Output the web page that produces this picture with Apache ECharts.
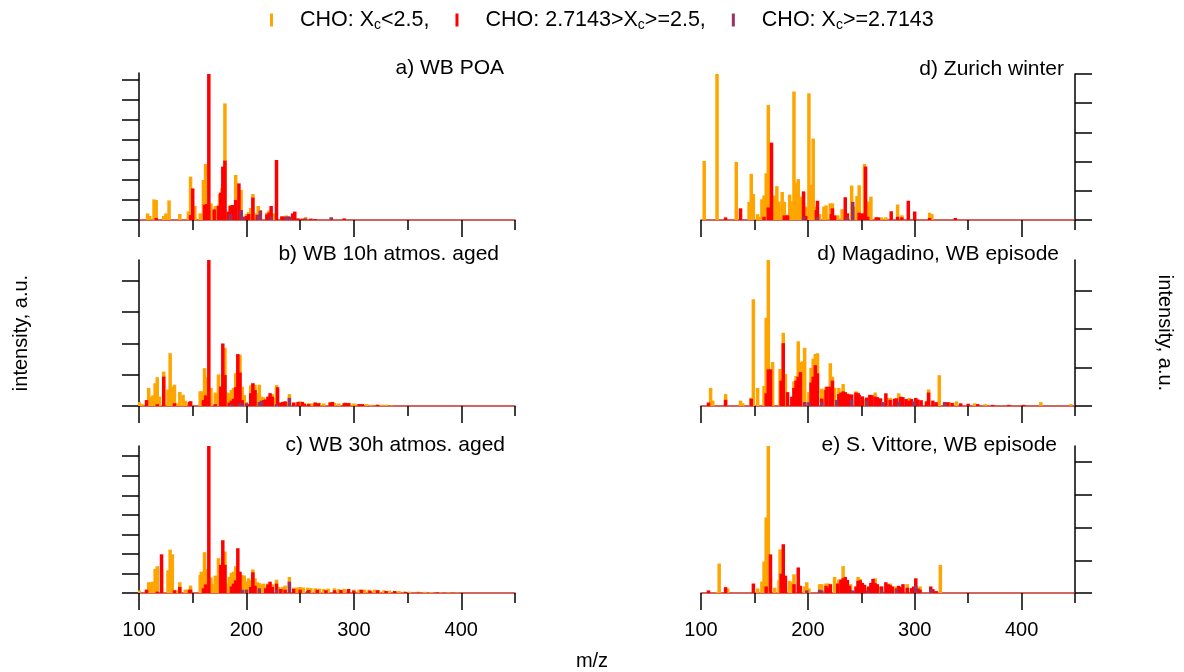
<!DOCTYPE html>
<html><head><meta charset="utf-8">
<script src="https://cdn.jsdelivr.net/npm/echarts@6/dist/echarts.min.js"></script>
<style>html,body{margin:0;padding:0;background:#fff}#c{width:1184px;height:672px}</style>
</head><body><div id="c"></div>
<script>
// ---------- DATA (m/z, intensity in a.u.) ----------
const aOrange = [[108,0.33],[110,0.2],[114,1.03],[116,1.0],[123,0.2],[125,0.33],[128,0.98],[138,0.3],[146,0.43],[148,2.17],[152,0.7],[157,0.33],[160,2.0],[162,2.8],[167,0.83],[171,0.7],[175,1.3],[177,1.58],[180,5.83],[185,0.75],[187,0.75],[190,2.25],[195,1.5],[200,0.3],[202,0.4],[204,0.6],[206,1.3],[209,0.33],[211,0.7],[213,0.5],[219,0.37],[221,0.47],[225,0.33],[233,0.17],[237,0.23],[238,0.2],[255,0.15],[279,0.13]];
const aRed = [[116,0.1],[148,0.25],[150,1.58],[161,0.77],[163,0.8],[165,7.3],[170,0.53],[174,0.72],[176,1.37],[178,2.67],[180,2.97],[183,0.42],[185,0.7],[187,0.75],[188,0.63],[190,1.0],[193,1.83],[195,0.5],[200,0.2],[202,0.3],[206,1.12],[210,0.25],[212,0.23],[219,0.28],[221,0.37],[223,0.7],[228,3.0],[233,0.18],[235,0.17],[239,0.17],[243,0.33],[245,0.42],[248,0.08],[252,0.07],[260,0.07],[264,0.05],[291,0.08]];
const aPurple = [[185,0.3],[195,0.5],[197,0.17],[211,0.27],[213,0.47],[223,0.17],[237,0.17],[241,0.17],[255,0.08],[279,0.13]];

const bOrange = [[100,0.13],[103,0.06],[109,0.58],[111,0.3],[113,0.34],[115,0.73],[117,0.92],[119,0.3],[123,1.1],[127,0.53],[129,1.69],[131,0.62],[133,0.68],[135,0.09],[138,0.45],[141,0.36],[143,0.17],[147,0.13],[148,0.15],[157,0.47],[158,0.47],[161,1.21],[163,0.92],[167,0.58],[171,0.43],[174,1.01],[176,0.62],[180,1.86],[182,0.43],[184,0.41],[186,0.51],[188,0.58],[190,1.05],[192,1.64],[194,1.64],[196,0.62],[198,0.35],[200,0.13],[204,0.66],[206,0.7],[208,0.68],[210,0.41],[212,0.68],[214,0.3],[216,0.28],[218,0.19],[220,0.26],[224,0.38],[226,0.26],[228,0.67],[234,0.13],[238,0.13],[240,0.38],[244,0.11],[250,0.15],[254,0.1],[258,0.09],[261,0.08],[264,0.11],[268,0.1],[272,0.08],[278,0.13],[282,0.1],[286,0.08],[292,0.11],[296,0.1],[300,0.08],[304,0.06],[307,0.06],[312,0.06],[316,0.04],[322,0.04],[326,0.04],[330,0.04],[335,0.02]];
const bRed = [[107,0.19],[117,0.06],[123,0.94],[133,0.09],[147,0.13],[148,0.15],[160,0.19],[162,0.34],[165,4.67],[171,0.06],[176,0.62],[178,2.0],[180,0.99],[184,0.11],[186,0.17],[188,0.23],[190,0.6],[192,1.66],[194,1.07],[196,0.19],[202,0.06],[204,0.41],[206,0.73],[208,0.51],[216,0.19],[218,0.21],[220,0.3],[222,0.41],[224,0.3],[229,0.6],[232,0.11],[234,0.13],[236,0.15],[244,0.11],[248,0.13],[252,0.13],[254,0.06],[258,0.06],[264,0.11],[267,0.09],[278,0.11],[280,0.13],[291,0.09],[293,0.09],[295,0.09],[305,0.06],[308,0.06],[322,0.04]];
const bPurple = [[186,0.06],[194,0.11],[196,0.06],[200,0.09],[212,0.13],[214,0.17],[228,0.06],[240,0.26]];

const cOrange = [[100,0.14],[107,0.17],[109,0.55],[111,0.55],[113,0.58],[115,1.23],[117,1.37],[121,1.2],[127,1.16],[129,2.22],[131,1.98],[133,0.14],[135,0.14],[138,0.55],[143,0.17],[144,0.17],[148,0.38],[157,0.92],[158,1.09],[161,2.09],[163,1.23],[167,0.79],[168,0.48],[171,0.89],[173,0.72],[174,1.78],[176,0.82],[180,2.12],[182,0.48],[184,0.82],[186,1.03],[188,1.09],[190,1.37],[196,0.92],[198,0.89],[200,0.58],[202,0.75],[204,0.65],[206,1.2],[208,0.75],[210,0.55],[212,0.51],[214,0.44],[216,0.48],[218,0.34],[220,0.48],[224,0.44],[228,0.68],[230,0.31],[234,0.31],[236,0.38],[240,0.82],[244,0.27],[247,0.28],[250,0.31],[253,0.28],[257,0.27],[260,0.25],[264,0.24],[268,0.22],[272,0.21],[276,0.22],[282,0.24],[286,0.2],[291,0.21],[295,0.2],[300,0.17],[305,0.17],[310,0.17],[314,0.17],[319,0.17],[323,0.15],[328,0.14],[333,0.12],[338,0.1],[342,0.1],[347,0.07],[352,0.07],[360,0.07],[366,0.06],[372,0.05],[380,0.04],[388,0.03],[396,0.03]];
const cRed = [[107,0.17],[117,0.07],[121,1.98],[133,0.14],[138,0.31],[147,0.17],[148,0.17],[160,0.24],[162,0.44],[165,7.52],[176,1.44],[178,2.7],[180,1.44],[186,0.34],[188,0.48],[190,0.65],[192,2.29],[194,1.09],[204,0.31],[206,1.06],[208,0.38],[218,0.24],[220,0.44],[222,0.58],[224,0.31],[228,0.48],[232,0.21],[236,0.17],[244,0.21],[250,0.17],[258,0.15],[266,0.17],[274,0.14],[282,0.14],[288,0.15],[295,0.21],[300,0.12],[307,0.17],[315,0.12],[322,0.14],[330,0.1],[338,0.1],[348,0.06],[360,0.03],[378,0.03]];
const cPurple = [[196,0.17],[200,0.17],[212,0.24],[228,0.17],[240,0.58],[257,0.1]];

const dOrange = [[103,2.02],[115,5.0],[133,1.99],[145,0.62],[147,1.58],[149,0.89],[153,0.2],[155,0.11],[157,0.71],[159,0.84],[161,1.6],[163,3.94],[169,0.84],[171,1.16],[173,0.63],[176,0.96],[178,0.62],[181,0.18],[183,0.87],[185,0.64],[187,4.4],[189,1.26],[191,1.4],[193,0.8],[198,0.46],[201,4.34],[203,1.21],[205,2.79],[208,0.46],[211,0.2],[215,0.46],[217,0.5],[221,0.57],[223,0.57],[228,0.16],[232,0.37],[236,0.11],[241,1.18],[243,0.46],[246,0.82],[248,1.19],[253,1.92],[257,0.63],[259,0.8],[264,0.09],[269,0.09],[273,0.09],[284,0.53],[288,0.16],[314,0.25],[316,0.2]];
const dRed = [[123,0.09],[137,0.4],[159,0.11],[163,0.43],[166,2.65],[178,0.16],[181,0.16],[196,0.98],[198,0.14],[208,0.34],[209,0.66],[222,0.2],[223,0.4],[225,0.16],[235,0.78],[237,0.23],[248,0.25],[249,0.16],[251,0.23],[254,1.83],[256,0.11],[264,0.09],[266,0.09],[278,0.3],[284,0.11],[288,0.09],[294,0.66],[300,0.29],[314,0.07],[338,0.07]];
const dPurple = [[196,0.11],[209,0.11],[237,0.11],[242,0.62]];

const mOrange = [[109,0.47],[111,0.14],[123,0.31],[137,0.14],[139,0.07],[147,0.21],[149,2.77],[153,0.47],[159,0.52],[161,2.29],[163,3.79],[165,0.95],[167,1.14],[174,0.96],[177,1.9],[179,0.83],[187,0.64],[189,0.78],[191,1.68],[193,1.14],[195,1.16],[197,1.51],[201,0.36],[203,0.99],[205,1.23],[207,1.35],[209,1.37],[213,0.45],[214,0.42],[217,0.5],[221,1.11],[223,0.76],[225,0.47],[229,0.47],[233,0.57],[237,0.33],[245,0.38],[247,0.35],[253,0.17],[263,0.35],[274,0.21],[277,0.21],[285,0.33],[295,0.21],[312,0.14],[313,0.43],[323,0.8],[332,0.1],[339,0.12],[356,0.07],[366,0.05],[418,0.1],[446,0.05]];
const mRed = [[107,0.09],[123,0.16],[147,0.19],[161,0.33],[163,0.95],[165,0.95],[175,0.66],[177,1.63],[181,0.36],[185,0.24],[187,0.47],[189,0.66],[191,0.76],[193,0.88],[197,0.1],[203,0.61],[205,0.76],[207,1.06],[209,0.85],[213,0.19],[217,0.42],[218,0.5],[221,0.5],[223,0.66],[229,0.31],[231,0.35],[233,0.38],[235,0.36],[237,0.31],[239,0.3],[241,0.3],[245,0.35],[247,0.33],[248,0.29],[251,0.25],[255,0.22],[258,0.29],[260,0.28],[263,0.24],[265,0.23],[268,0.2],[273,0.33],[277,0.16],[281,0.19],[283,0.2],[287,0.24],[289,0.23],[292,0.18],[295,0.14],[297,0.18],[301,0.21],[303,0.17],[306,0.15],[311,0.12],[313,0.35],[317,0.14],[320,0.1],[328,0.1],[331,0.1],[335,0.08],[343,0.07],[350,0.06],[359,0.05],[373,0.03],[388,0.03],[402,0.03]];
const mPurple = [[197,0.09],[201,0.1],[213,0.1],[227,0.16],[241,0.17],[255,0.14],[270,0.1],[285,0.12],[299,0.12],[328,0.09]];

const sOrange = [[115,0.03],[117,0.9],[125,0.14],[153,0.14],[157,0.35],[159,0.96],[161,2.31],[163,4.49],[165,0.49],[169,0.16],[173,0.39],[174,1.33],[179,0.2],[183,0.37],[185,0.33],[187,0.57],[193,0.2],[197,0.2],[199,0.33],[201,0.14],[211,0.27],[213,0.27],[217,0.29],[219,0.29],[225,0.49],[229,0.41],[233,0.82],[240,0.27],[247,0.49],[249,0.43],[255,0.16],[263,0.45],[268,0.2],[277,0.29],[282,0.2],[293,0.27],[305,0.2],[324,0.86]];
const sRed = [[107,0.08],[123,0.18],[149,0.29],[161,0.2],[165,1.18],[175,0.59],[177,1.49],[179,0.53],[187,0.27],[191,0.78],[193,0.22],[217,0.22],[219,0.16],[221,0.27],[228,0.29],[231,0.41],[233,0.45],[235,0.49],[237,0.4],[239,0.22],[245,0.2],[247,0.37],[249,0.39],[251,0.31],[253,0.25],[257,0.2],[259,0.31],[261,0.43],[263,0.3],[265,0.27],[269,0.2],[273,0.33],[275,0.27],[277,0.24],[279,0.2],[283,0.14],[285,0.22],[287,0.18],[289,0.27],[293,0.16],[297,0.15],[299,0.2],[301,0.45],[303,0.14],[305,0.1],[315,0.2],[317,0.12],[320,0.06]];
const sPurple = [[199,0.08],[211,0.1],[213,0.08],[242,0.08],[256,0.08],[269,0.08],[283,0.12],[301,0.22],[315,0.12]];

const seriesNames = ['CHO: Xc<2.5,', 'CHO: 2.7143>Xc>=2.5,', 'CHO: Xc>=2.7143'];
const legendLabels = ['{t|CHO: X}{s|c}{t|<2.5,}', '{t|CHO: 2.7143>X}{s|c}{t|>=2.5,}', '{t|CHO: X}{s|c}{t|>=2.7143}'];
const panelTitles = ['a) WB POA', 'b) WB 10h atmos. aged', 'c) WB 30h atmos. aged', 'd) Zurich winter', 'd) Magadino, WB episode', 'e) S. Vittore, WB episode'];
const panelData = [[aOrange,aRed,aPurple],[bOrange,bRed,bPurple],[cOrange,cRed,cPurple],[dOrange,dRed,dPurple],[mOrange,mRed,mPurple],[sOrange,sRed,sPurple]];
const yMax = [7.35, 4.67, 7.52, 5.0, 3.79, 4.49];
const yTicks = [[0,1,2,3,4,5,6,7],[0,1,2,3,4],[0,1,2,3,4,5,6,7],[0,1,2,3,4,5],[0,1,2,3],[0,1,2,3,4]];
const xMajorTicks = [100, 200, 300, 400];
const xName = 'm/z';
const yName = 'intensity, a.u.';

// ---------- LAYOUT / STYLE ----------
const FONT = 'Liberation Sans, Arial, Helvetica, sans-serif';
const colors = ['#FFA500', '#FF0000', '#993366'];
const grids = [
  {left:139, top:73, width:376, height:147},
  {left:139, top:260, width:376, height:146},
  {left:139, top:446, width:376, height:147},
  {left:701, top:74, width:374, height:146},
  {left:701, top:260, width:374, height:146},
  {left:701, top:446, width:374, height:147}
];
const titlePos = [
  {right:680, top:58},{right:685, top:244},{right:679, top:435},
  {right:120, top:59},{right:125, top:244},{right:127, top:435}
];

const xAxes = [], yAxes = [], series = [];
grids.forEach((g, i) => {
  const isRight = i >= 3;
  const isBottom = i === 2 || i === 5;
  xAxes.push({
    gridIndex:i, type:'value', min:100, max:450, interval:50, position:'bottom',
    axisLine:{show:true, onZero:false, lineStyle:{color:'#c0352c', width:1.5}},
    axisTick:{show:true, length:10, lineStyle:{color:'#000', width:1.5}},
    axisLabel:{show:isBottom, customValues:xMajorTicks, fontSize:20, color:'#000', fontFamily:FONT, margin:27},
    splitLine:{show:false}
  });
  xAxes.push({
    gridIndex:i, type:'value', min:100, max:450, position:'bottom',
    axisLine:{show:false},
    axisTick:{show:true, customValues:xMajorTicks, length:17, lineStyle:{color:'#000', width:1.5}},
    axisLabel:{show:false}, splitLine:{show:false}
  });
  const ya = {
    gridIndex:i, type:'value', min:0, max:yMax[i], position:isRight?'right':'left',
    axisLine:{show:true, onZero:false, lineStyle:{color:'#000', width:1.5}},
    axisTick:{show:true, customValues:yTicks[i], length:17, lineStyle:{color:'#000', width:1.5}},
    axisLabel:{show:false}, splitLine:{show:false}
  };
  if (i === 1 || i === 4) {
    ya.name = yName;
    ya.nameLocation = 'middle';
    ya.nameRotate = isRight ? -90 : 90;
    ya.nameGap = isRight ? 80 : 108;
    ya.nameTextStyle = {fontSize:20, color:'#000', fontFamily:FONT};
  }
  yAxes.push(ya);
  panelData[i].forEach((arr, k) => {
    series.push({
      type:'bar', name:seriesNames[k], xAxisIndex:2*i, yAxisIndex:i,
      data:arr, barWidth:3.5, barGap:'-100%', barCategoryGap:0,
      itemStyle:{color:colors[k]}, silent:true, animation:false
    });
  });
});

const titles = panelTitles.map((t, i) => ({
  text:t, right:titlePos[i].right, top:titlePos[i].top, padding:0,
  textStyle:{fontSize:21, fontWeight:'normal', color:'#000', fontFamily:FONT}
}));
titles.push({text:xName, left:'center', top:651, padding:0,
  textStyle:{fontSize:20, fontWeight:'normal', color:'#000', fontFamily:FONT}});

const chart = echarts.init(document.getElementById('c'), null, {renderer:'canvas'});
chart.setOption({
  animation:false,
  backgroundColor:'#fff',
  color:colors,
  title:titles,
  legend:{
    top:9, left:270, padding:0, icon:'rect', itemWidth:3, itemHeight:13, itemGap:26,
    data:seriesNames, selectedMode:false,
    formatter:function(n){ return legendLabels[seriesNames.indexOf(n)]; },
    textStyle:{padding:[0,0,0,22], rich:{
      t:{fontSize:21.5, color:'#000', fontFamily:FONT},
      s:{fontSize:14, color:'#000', fontFamily:FONT, verticalAlign:'bottom', padding:[11,0,0,0]}
    }}
  },
  grid:grids,
  xAxis:xAxes,
  yAxis:yAxes,
  series:series
});
</script></body></html>
